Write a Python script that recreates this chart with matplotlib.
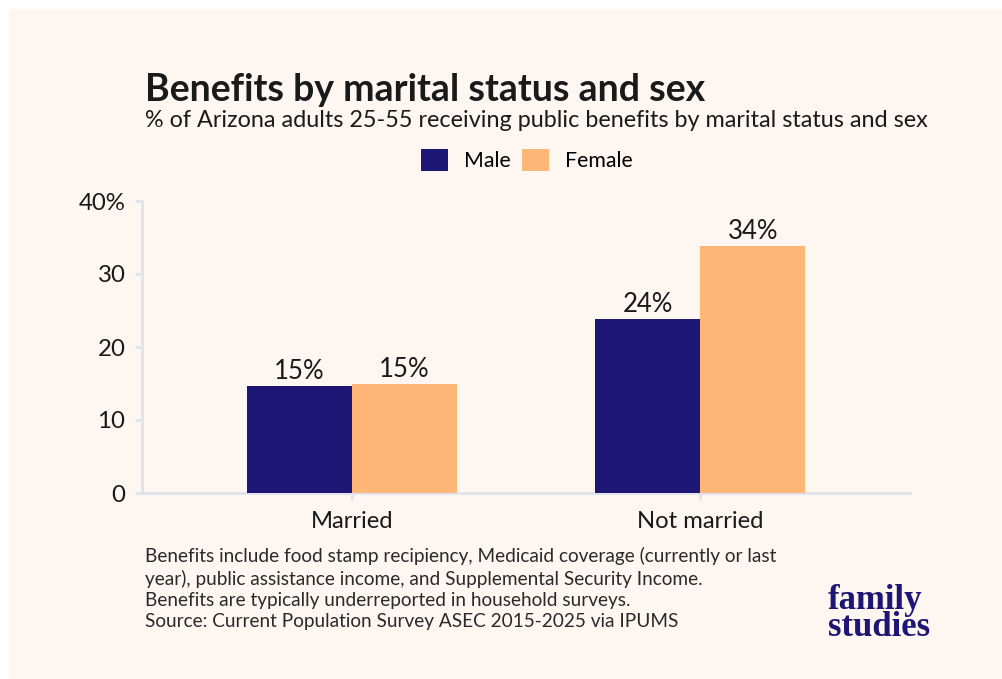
import numpy as np
from matplotlib import pyplot as plt
from matplotlib.patches import Rectangle

categories = ["Married", "Not married"]
male = [14.7, 23.9]
female = [15.0, 33.9]
male_labels = ["15%", "24%"]
female_labels = ["15%", "34%"]
yticks = [0, 10, 20, 30, 40]
ytick_labels = ["0", "10", "20", "30", "40%"]

navy = "#1E1675"
orange = "#FFB677"
bg = "#FEF6F1"
axis_col = "#E0E3EE"
text_col = "#1A1A1A"

plt.rcParams["font.family"] = ["Lato", "DejaVu Sans"]

fig = plt.figure(figsize=(10.02, 6.79), dpi=100, facecolor="white")
fig.patches.append(Rectangle((9 / 1002, 0), 1, 1 - 9 / 679, transform=fig.transFigure,
                             facecolor=bg, edgecolor="none", zorder=-10))

ax = fig.add_axes([142 / 1002, 1 - 493 / 679, (910 - 142) / 1002, (493 - 201) / 679])
ax.set_facecolor("none")

x = np.arange(len(categories))
w = 0.302
b1 = ax.bar(x - w / 2, male, w, color=navy, label="Male", zorder=3)
b2 = ax.bar(x + w / 2, female, w, color=orange, label="Female", zorder=3)
for bars, labels in [(b1, male_labels), (b2, female_labels)]:
    for bar, lab in zip(bars, labels):
        ax.text(bar.get_x() + bar.get_width() / 2, bar.get_height() + 0.2, lab,
                ha="center", va="bottom", fontsize=18.5, color=text_col)

ax.set_xlim(-0.603, 1.603)
ax.set_ylim(0, 40)
ax.set_yticks(yticks)
ax.set_yticklabels(ytick_labels, fontsize=17.3, color=text_col)
ax.set_xticks(x)
ax.set_xticklabels(categories, fontsize=17.2, color=text_col)
for s in ["top", "right"]:
    ax.spines[s].set_visible(False)
for s in ["left", "bottom"]:
    ax.spines[s].set_color(axis_col)
    ax.spines[s].set_linewidth(2)
ax.tick_params(axis="both", color=axis_col, width=2, length=5)
ax.tick_params(axis="y", pad=7)
ax.tick_params(axis="x", pad=8)

fig.text(145 / 1002, 1 - 101 / 679, "Benefits by marital status and sex",
         fontsize=27, fontweight="bold", color=text_col)
fig.text(145 / 1002, 1 - 127 / 679,
         "% of Arizona adults 25-55 receiving public benefits by marital status and sex",
         fontsize=16.8, color=text_col)

fig.legend(loc="center", bbox_to_anchor=(527 / 1002, 1 - 160 / 679), ncol=2,
           frameon=False, fontsize=15.3, handlelength=1.25, handleheight=1.25,
           columnspacing=0.55, handletextpad=0.75)

notes = ("Benefits include food stamp recipiency, Medicaid coverage (currently or last\n"
         "year), public assistance income, and Supplemental Security Income.\n"
         "Benefits are typically underreported in household surveys.\n"
         "Source: Current Population Survey ASEC 2015-2025 via IPUMS")
fig.text(145 / 1002, 1 - 547 / 679, notes, fontsize=13.7, color="#2A2A2A",
         va="top", linespacing=1.3)

fig.text(828 / 1002, 1 - 614 / 679, "family\nstudies", fontsize=25, fontweight="bold",
         family="Liberation Serif", color=navy, ha="left", va="center",
         multialignment="left", linespacing=0.78)

fig.savefig("out.png", dpi=100, facecolor=fig.get_facecolor())
